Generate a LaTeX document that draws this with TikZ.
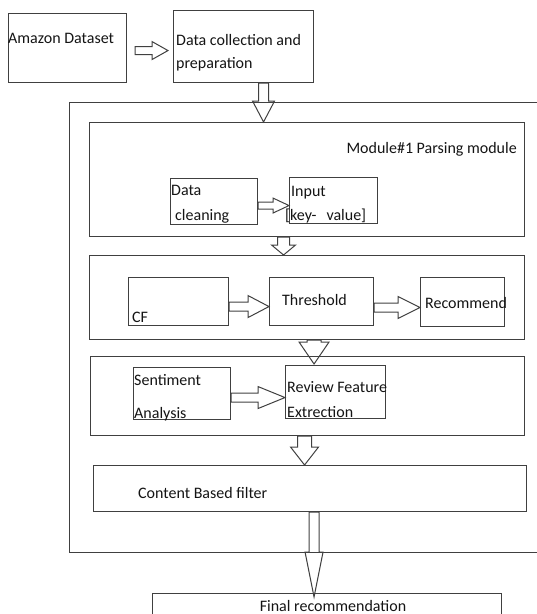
\documentclass[tikz,border=0pt]{standalone}
\usepackage{fontspec}
\setmainfont{Carlito}
\usetikzlibrary{calc}

% hollow block arrows: start, tip, shaft half width, head half width, head length
\newcommand\hollowright[5]{%
  \draw[hollow] let \p1=#1, \p2=#2 in
    (\x1,\y1+#3pt) -- (\x2-#5pt,\y1+#3pt) -- (\x2-#5pt,\y1+#4pt) -- (\x2,\y1)
    -- (\x2-#5pt,\y1-#4pt) -- (\x2-#5pt,\y1-#3pt) -- (\x1,\y1-#3pt) -- cycle;}
\newcommand\hollowdown[5]{%
  \draw[hollow] let \p1=#1, \p2=#2 in
    (\x1-#3pt,\y1) -- (\x1-#3pt,\y2+#5pt) -- (\x1-#4pt,\y2+#5pt) -- (\x1,\y2)
    -- (\x1+#4pt,\y2+#5pt) -- (\x1+#3pt,\y2+#5pt) -- (\x1+#3pt,\y1) -- cycle;}

\begin{document}
\begin{tikzpicture}[x=1pt,y=-1pt,
    font=\fontsize{16}{24}\selectfont]
  \useasboundingbox (0,0) rectangle (537,614);
  \clip (0,0) rectangle (537,614);

  \tikzset{
    stage/.style={draw=black!75, line width=1.1pt, inner sep=0pt, anchor=north west},
    hollow/.style={draw=black!75, line width=1pt, line join=miter},
    label/.style={inner sep=0pt, anchor=base west, text=black!92},
    lines/.style={inner sep=0pt, anchor=north west, align=left, text=black!92}
  }

  % boxes
  \node[stage, minimum width=118pt, minimum height=69pt] (amazon) at (8,13) {};
  \node[stage, minimum width=140pt, minimum height=72pt] (collect) at (173,10) {};
  \node[stage, minimum width=476pt, minimum height=450pt] (system) at (69,102) {};
  \node[stage, minimum width=435pt, minimum height=114pt] (parsing) at (89,122) {};
  \node[stage, minimum width=87pt, minimum height=46pt] (cleaning) at (170,178) {};
  \node[stage, minimum width=88pt, minimum height=46pt] (input) at (289,177) {};
  \node[stage, minimum width=435pt, minimum height=84pt] (cfmodule) at (89,255) {};
  \node[stage, minimum width=100pt, minimum height=48pt] (cf) at (128,277) {};
  \node[stage, minimum width=104pt, minimum height=48pt] (threshold) at (269,277) {};
  \node[stage, minimum width=84pt, minimum height=49pt] (recommend) at (420,277) {};
  \node[stage, minimum width=434pt, minimum height=79pt] (sentmodule) at (90,356) {};
  \node[stage, minimum width=97pt, minimum height=52pt] (sentiment) at (133,367) {};
  \node[stage, minimum width=100pt, minimum height=53pt] (review) at (285,365) {};
  \node[stage, minimum width=433pt, minimum height=46pt] (content) at (93,465) {};
  \node[stage, minimum width=349pt, minimum height=40pt] (final) at (152,593) {};

  % texts
  \node[label] (amazontxt) at (8,43) {Amazon Dataset};
  \node[lines] (collecttxt) at (176,28.2) {\strut Data collection and\\[-0.5pt]preparation};
  \node[label, anchor=base east] (parsingtxt) at (517,153) {Module\#1 Parsing module};
  \node[lines] (cleaningtxt) at (171,178.9) {\strut Data\\[0.5pt]\hspace*{4pt}cleaning};
  \node[lines] (inputtxt) at (285,179.2) {\strut\hspace*{6pt}Input\\{[}key-\hspace{10pt}value{]}};
  \node[label] (cftxt) at (132,322) {CF};
  \node[label] (thresholdtxt) at (282,305) {Threshold};
  \node[label] (recommendtxt) at (425,308) {Recommend};
  \node[lines] (sentimenttxt) at (134,368.2) {\strut Sentiment\\[9pt]Analysis};
  \node[lines] (reviewtxt) at (287,375.2) {\strut Review Feature\\[1pt]Extrection};
  \node[label] (contenttxt) at (138,498) {Content Based filter};
  \node[label, anchor=base] (finaltxt) at (333,611.5) {Final recommendation};

  % arrows
  \hollowright{($(amazon.east)+(8,2.5)$)}{($(collect.west)+(-5,0)$)}{4}{9}{16}
  \hollowright{($(cleaning.east)+(0,4)$)}{(input.west)}{3.5}{7.5}{16}
  \hollowright{($(cf.east)+(0,5)$)}{(threshold.west)}{4.5}{11}{21}
  \hollowright{($(threshold.east)+(0,6)$)}{(recommend.west)}{4.5}{11}{22}
  \hollowright{($(sentiment.east)+(0,4)$)}{(review.west)}{4.5}{11}{27}

  \hollowdown{($(collect.south)+(20,0)$)}{(parsing.north)}{5}{11}{21}
  \hollowdown{($(parsing.south)+(-23.5,0)$)}{(cfmodule.north)}{6}{12}{10}
  \hollowdown{($(cfmodule.south)+(7,0)$)}{($(review.north)+(0,-1)$)}{7}{15}{22}
  \hollowdown{($(sentmodule.south)+(-3,0)$)}{(content.north)}{7}{14}{18}
  \hollowdown{($(content.south)+(4,0)$)}{($(final.north)+(0,4)$)}{5}{9}{45}
\end{tikzpicture}
\end{document}
